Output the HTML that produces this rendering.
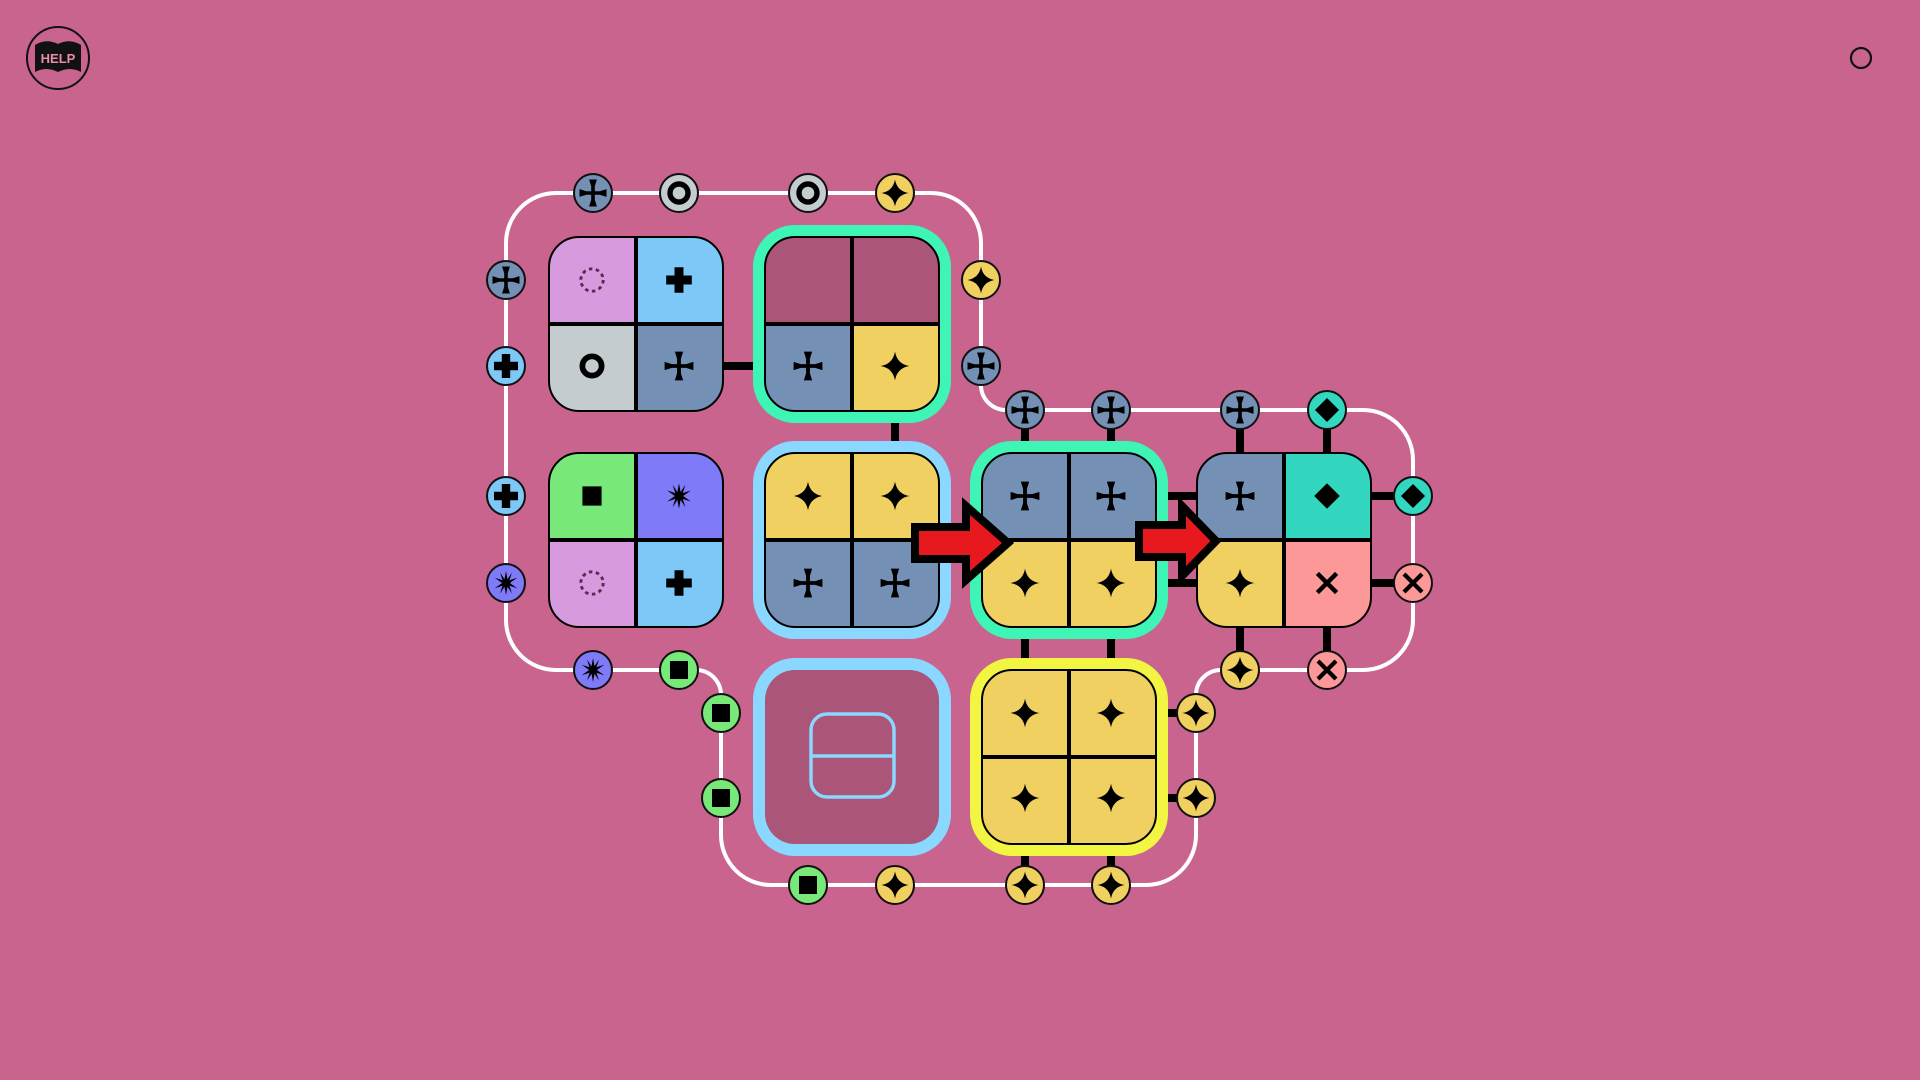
<!DOCTYPE html>
<html><head><meta charset="utf-8"><style>html,body{margin:0;padding:0;background:#c9648e;}svg{display:block}</style></head>
<body>
<svg width="1920" height="1080" viewBox="0 0 1920 1080" xmlns="http://www.w3.org/2000/svg">
<defs>
<clipPath id="rr" clipPathUnits="objectBoundingBox"><rect width="1" height="1" rx="0.17" ry="0.17"/></clipPath>
<symbol id="cr" viewBox="-10 -10 20 20"><path d="M-2.6,-9 L2.6,-9 L1.2,-4.5 L1.2,-1.2 L4.5,-1.2 L9,-2.6 L9,2.6 L4.5,1.2 L1.2,1.2 L1.2,4.5 L2.6,9 L-2.6,9 L-1.2,4.5 L-1.2,1.2 L-4.5,1.2 L-9,2.6 L-9,-2.6 L-4.5,-1.2 L-1.2,-1.2 L-1.2,-4.5 Z" fill="#000"/></symbol>
<symbol id="st" viewBox="-10 -10 20 20"><path d="M0,-9 Q1.3,-1.3 9,0 Q1.3,1.3 0,9 Q-1.3,1.3 -9,0 Q-1.3,-1.3 0,-9Z" fill="#000"/></symbol>
<symbol id="ri" viewBox="-10 -10 20 20"><circle r="6" fill="none" stroke="#000" stroke-width="3.6"/></symbol>
<symbol id="pl" viewBox="-10 -10 20 20"><path d="M-2.8,-8 H2.8 V-2.8 H8 V2.8 H2.8 V8 H-2.8 V2.8 H-8 V-2.8 H-2.8Z" fill="#000"/></symbol>
<symbol id="sq" viewBox="-10 -10 20 20"><rect x="-6" y="-6" width="12" height="12" fill="#000"/></symbol>
<symbol id="bu" viewBox="-10 -10 20 20"><polygon points="0,-8 1,-2.5 4,-7 2.3,-1.8 7.5,-3.5 2.6,0 7.5,3.5 2.3,1.8 4,7 1,2.5 0,8 -1,2.5 -4,7 -2.3,1.8 -7.5,3.5 -2.6,0 -7.5,-3.5 -2.3,-1.8 -4,-7 -1,-2.5" fill="#000"/></symbol>
<symbol id="do" viewBox="-10 -10 20 20"><circle r="7" fill="none" stroke="#5a2a50" stroke-width="1.8" stroke-dasharray="2.2 2.2"/></symbol>
<symbol id="xx" viewBox="-10 -10 20 20"><path d="M-6,-6 L6,6 M6,-6 L-6,6" stroke="#000" stroke-width="2.8"/></symbol>
<symbol id="di" viewBox="-10 -10 20 20"><polygon points="0,-8 8,0 0,8 -8,0" fill="#000"/></symbol>
</defs>

<circle cx="58" cy="58" r="31" fill="none" stroke="#111" stroke-width="2"/>
<path d="M35,45 Q46,38 58,44 Q70,38 81,45 L81,72 Q70,66 58,72 Q46,66 35,72 Z" fill="#111"/>
<text x="58" y="63" font-family="Liberation Sans, sans-serif" font-weight="bold" font-size="13" fill="#e98aae" text-anchor="middle">HELP</text>
<circle cx="1861" cy="58" r="10" fill="none" stroke="#111" stroke-width="2.2"/>

<path d="M506,243 A50,50 0 0 1 556,193 L931,193 A50,50 0 0 1 981,243 L981,385 A25,25 0 0 0 1006,410 L1363,410 A50,50 0 0 1 1413,460 L1413,620 A50,50 0 0 1 1363,670 L1221,670 A25,25 0 0 0 1196,695 L1196,835 A50,50 0 0 1 1146,885 L771,885 A50,50 0 0 1 721,835 L721,695 A25,25 0 0 0 696,670 L556,670 A50,50 0 0 1 506,620 Z" fill="none" stroke="#fff" stroke-width="4"/>

<g stroke="#000" stroke-width="8">
<line x1="720" y1="366" x2="768" y2="366"/>
<line x1="895" y1="408" x2="895" y2="456"/>
<line x1="1025" y1="410" x2="1025" y2="456"/>
<line x1="1111" y1="410" x2="1111" y2="456"/>
<line x1="1240" y1="410" x2="1240" y2="456"/>
<line x1="1327" y1="410" x2="1327" y2="456"/>
<line x1="1150" y1="496" x2="1200" y2="496"/>
<line x1="1150" y1="583" x2="1200" y2="583"/>
<line x1="1368" y1="496" x2="1413" y2="496"/>
<line x1="1368" y1="583" x2="1413" y2="583"/>
<line x1="1240" y1="625" x2="1240" y2="670"/>
<line x1="1327" y1="625" x2="1327" y2="670"/>
<line x1="1025" y1="625" x2="1025" y2="673"/>
<line x1="1111" y1="625" x2="1111" y2="673"/>
<line x1="1152" y1="713" x2="1196" y2="713"/>
<line x1="1152" y1="798" x2="1196" y2="798"/>
<line x1="1025" y1="842" x2="1025" y2="885"/>
<line x1="1111" y1="842" x2="1111" y2="885"/>
</g>

<rect x="753" y="225" width="198" height="198" rx="42" fill="#3ef5b5"/>
<rect x="753" y="441" width="198" height="198" rx="42" fill="#8ad8ff"/>
<rect x="970" y="441" width="198" height="198" rx="42" fill="#3ef5b5"/>
<rect x="970" y="658" width="198" height="198" rx="42" fill="#f2f542"/>
<rect x="753" y="658" width="198" height="198" rx="42" fill="#8ad8ff"/>
<rect x="765" y="670" width="174" height="174" rx="30" fill="#ab5578"/>
<rect x="811" y="714" width="83" height="83" rx="16" fill="none" stroke="#8ad8ff" stroke-width="3.5"/>
<line x1="811" y1="756" x2="894" y2="756" stroke="#8ad8ff" stroke-width="3.5"/>

<g clip-path="url(#rr)"><rect x="549" y="237" width="87" height="87" fill="#d89ade"/><rect x="636" y="237" width="87" height="87" fill="#7ec8f8"/><rect x="549" y="324" width="87" height="87" fill="#c5ccd0"/><rect x="636" y="324" width="87" height="87" fill="#7490b5"/></g>
<path d="M636,237 V411 M549,324 H723" stroke="#000" stroke-width="4"/><rect x="549" y="237" width="174" height="174" rx="30" fill="none" stroke="#000" stroke-width="2"/>
<use href="#do" x="576" y="264" width="32" height="32"/><use href="#pl" x="663" y="264" width="32" height="32"/><use href="#ri" x="576" y="350" width="32" height="32"/><use href="#cr" x="663" y="350" width="32" height="32"/>

<g clip-path="url(#rr)"><rect x="765" y="237" width="87" height="87" fill="#ab5578"/><rect x="852" y="237" width="87" height="87" fill="#ab5578"/><rect x="765" y="324" width="87" height="87" fill="#7490b5"/><rect x="852" y="324" width="87" height="87" fill="#f0d060"/></g>
<path d="M852,237 V411 M765,324 H939" stroke="#000" stroke-width="4"/><rect x="765" y="237" width="174" height="174" rx="30" fill="none" stroke="#000" stroke-width="2"/>
<use href="#cr" x="792" y="350" width="32" height="32"/><use href="#st" x="879" y="350" width="32" height="32"/>

<g clip-path="url(#rr)"><rect x="549" y="453" width="87" height="87" fill="#78e878"/><rect x="636" y="453" width="87" height="87" fill="#7f7af7"/><rect x="549" y="540" width="87" height="87" fill="#d89ade"/><rect x="636" y="540" width="87" height="87" fill="#7ec8f8"/></g>
<path d="M636,453 V627 M549,540 H723" stroke="#000" stroke-width="4"/><rect x="549" y="453" width="174" height="174" rx="30" fill="none" stroke="#000" stroke-width="2"/>
<use href="#sq" x="576" y="480" width="32" height="32"/><use href="#bu" x="663" y="480" width="32" height="32"/><use href="#do" x="576" y="567" width="32" height="32"/><use href="#pl" x="663" y="567" width="32" height="32"/>

<g clip-path="url(#rr)"><rect x="765" y="453" width="87" height="87" fill="#f0d060"/><rect x="852" y="453" width="87" height="87" fill="#f0d060"/><rect x="765" y="540" width="87" height="87" fill="#7490b5"/><rect x="852" y="540" width="87" height="87" fill="#7490b5"/></g>
<path d="M852,453 V627 M765,540 H939" stroke="#000" stroke-width="4"/><rect x="765" y="453" width="174" height="174" rx="30" fill="none" stroke="#000" stroke-width="2"/>
<use href="#st" x="792" y="480" width="32" height="32"/><use href="#st" x="879" y="480" width="32" height="32"/><use href="#cr" x="792" y="567" width="32" height="32"/><use href="#cr" x="879" y="567" width="32" height="32"/>

<g clip-path="url(#rr)"><rect x="982" y="453" width="87" height="87" fill="#7490b5"/><rect x="1069" y="453" width="87" height="87" fill="#7490b5"/><rect x="982" y="540" width="87" height="87" fill="#f0d060"/><rect x="1069" y="540" width="87" height="87" fill="#f0d060"/></g>
<path d="M1069,453 V627 M982,540 H1156" stroke="#000" stroke-width="4"/><rect x="982" y="453" width="174" height="174" rx="30" fill="none" stroke="#000" stroke-width="2"/>
<use href="#cr" x="1009" y="480" width="32" height="32"/><use href="#cr" x="1095" y="480" width="32" height="32"/><use href="#st" x="1009" y="567" width="32" height="32"/><use href="#st" x="1095" y="567" width="32" height="32"/>

<g clip-path="url(#rr)"><rect x="1197" y="453" width="87" height="87" fill="#7490b5"/><rect x="1284" y="453" width="87" height="87" fill="#33d6be"/><rect x="1197" y="540" width="87" height="87" fill="#f0d060"/><rect x="1284" y="540" width="87" height="87" fill="#fd9898"/></g>
<path d="M1284,453 V627 M1197,540 H1371" stroke="#000" stroke-width="4"/><rect x="1197" y="453" width="174" height="174" rx="30" fill="none" stroke="#000" stroke-width="2"/>
<use href="#cr" x="1224" y="480" width="32" height="32"/><use href="#di" x="1311" y="480" width="32" height="32"/><use href="#st" x="1224" y="567" width="32" height="32"/><use href="#xx" x="1311" y="567" width="32" height="32"/>

<g clip-path="url(#rr)"><rect x="982" y="670" width="174" height="174" fill="#f0d060"/></g>
<path d="M1069,670 V844 M982,757 H1156" stroke="#000" stroke-width="4"/><rect x="982" y="670" width="174" height="174" rx="30" fill="none" stroke="#000" stroke-width="2"/>
<use href="#st" x="1009" y="697" width="32" height="32"/><use href="#st" x="1095" y="697" width="32" height="32"/><use href="#st" x="1009" y="782" width="32" height="32"/><use href="#st" x="1095" y="782" width="32" height="32"/>

<polygon points="915,527 966,527 966,506 1008,543 966,580 966,559 915,559" fill="#e8191e" stroke="#000" stroke-width="8" stroke-linejoin="miter"/>
<polygon points="1139,525 1182,525 1182,506 1216,541 1182,576 1182,557 1139,557" fill="#e8191e" stroke="#000" stroke-width="8" stroke-linejoin="miter"/>

<g stroke="#111" stroke-width="2">
<circle cx="593" cy="193" r="19" fill="#7490b5"/><circle cx="679" cy="193" r="19" fill="#c5ccd0"/><circle cx="808" cy="193" r="19" fill="#c5ccd0"/><circle cx="895" cy="193" r="19" fill="#f0d060"/>
<circle cx="981" cy="280" r="19" fill="#f0d060"/><circle cx="981" cy="366" r="19" fill="#7490b5"/>
<circle cx="1025" cy="410" r="19" fill="#7490b5"/><circle cx="1111" cy="410" r="19" fill="#7490b5"/><circle cx="1240" cy="410" r="19" fill="#7490b5"/><circle cx="1327" cy="410" r="19" fill="#33d6be"/>
<circle cx="1413" cy="496" r="19" fill="#33d6be"/><circle cx="1413" cy="583" r="19" fill="#fd9898"/>
<circle cx="1240" cy="670" r="19" fill="#f0d060"/><circle cx="1327" cy="670" r="19" fill="#fd9898"/>
<circle cx="1196" cy="713" r="19" fill="#f0d060"/><circle cx="1196" cy="798" r="19" fill="#f0d060"/>
<circle cx="1111" cy="885" r="19" fill="#f0d060"/><circle cx="1025" cy="885" r="19" fill="#f0d060"/><circle cx="895" cy="885" r="19" fill="#f0d060"/><circle cx="808" cy="885" r="19" fill="#78e878"/>
<circle cx="721" cy="798" r="19" fill="#78e878"/><circle cx="721" cy="713" r="19" fill="#78e878"/>
<circle cx="679" cy="670" r="19" fill="#78e878"/><circle cx="593" cy="670" r="19" fill="#7f7af7"/>
<circle cx="506" cy="583" r="19" fill="#7f7af7"/><circle cx="506" cy="496" r="19" fill="#7ec8f8"/><circle cx="506" cy="366" r="19" fill="#7ec8f8"/><circle cx="506" cy="280" r="19" fill="#7490b5"/>
</g>
<use href="#cr" x="578" y="178" width="30" height="30"/><use href="#ri" x="664" y="178" width="30" height="30"/><use href="#ri" x="793" y="178" width="30" height="30"/><use href="#st" x="880" y="178" width="30" height="30"/>
<use href="#st" x="966" y="265" width="30" height="30"/><use href="#cr" x="966" y="351" width="30" height="30"/>
<use href="#cr" x="1010" y="395" width="30" height="30"/><use href="#cr" x="1096" y="395" width="30" height="30"/><use href="#cr" x="1225" y="395" width="30" height="30"/><use href="#di" x="1312" y="395" width="30" height="30"/>
<use href="#di" x="1398" y="481" width="30" height="30"/><use href="#xx" x="1398" y="568" width="30" height="30"/>
<use href="#st" x="1225" y="655" width="30" height="30"/><use href="#xx" x="1312" y="655" width="30" height="30"/>
<use href="#st" x="1181" y="698" width="30" height="30"/><use href="#st" x="1181" y="783" width="30" height="30"/>
<use href="#st" x="1096" y="870" width="30" height="30"/><use href="#st" x="1010" y="870" width="30" height="30"/><use href="#st" x="880" y="870" width="30" height="30"/><use href="#sq" x="793" y="870" width="30" height="30"/>
<use href="#sq" x="706" y="783" width="30" height="30"/><use href="#sq" x="706" y="698" width="30" height="30"/>
<use href="#sq" x="664" y="655" width="30" height="30"/><use href="#bu" x="578" y="655" width="30" height="30"/>
<use href="#bu" x="491" y="568" width="30" height="30"/><use href="#pl" x="491" y="481" width="30" height="30"/><use href="#pl" x="491" y="351" width="30" height="30"/><use href="#cr" x="491" y="265" width="30" height="30"/>
</svg>
</body></html>
